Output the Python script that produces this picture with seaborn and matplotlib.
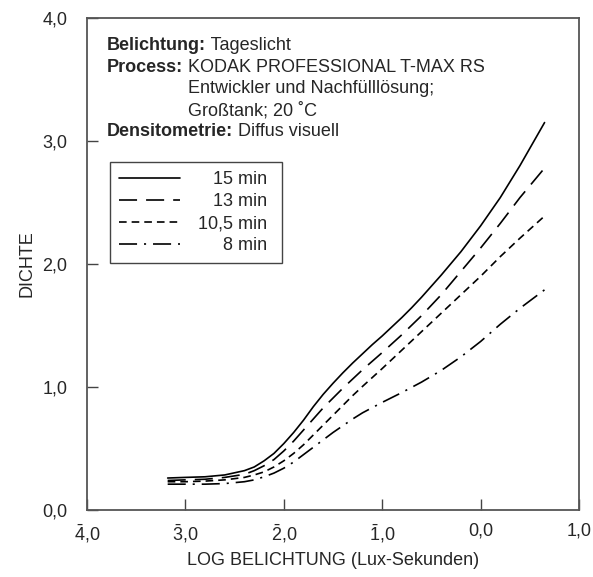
import matplotlib
matplotlib.use("Agg")
import matplotlib.pyplot as plt
import seaborn as sns
import pandas as pd

# ---- data (log exposure, density) ----
x_15 = [-3.18, -3.0, -2.8, -2.6, -2.4, -2.3, -2.2, -2.1, -2.0, -1.9, -1.8, -1.7, -1.6,
        -1.5, -1.4, -1.3, -1.2, -1.1, -1.0, -0.9, -0.8, -0.7, -0.6, -0.4, -0.2, 0.0,
        0.2, 0.4, 0.65]
d_15 = [0.26, 0.265, 0.27, 0.285, 0.32, 0.35, 0.40, 0.46, 0.54, 0.63, 0.73, 0.84, 0.94,
        1.03, 1.115, 1.195, 1.27, 1.345, 1.415, 1.49, 1.565, 1.645, 1.73, 1.91, 2.10, 2.31,
        2.54, 2.80, 3.15]

x_13 = [-3.18, -3.0, -2.8, -2.6, -2.4, -2.3, -2.2, -2.1, -2.0, -1.9, -1.8, -1.7, -1.6,
        -1.5, -1.4, -1.3, -1.2, -1.0, -0.8, -0.6, -0.4, -0.2, 0.0, 0.2, 0.4, 0.65]
d_13 = [0.24, 0.245, 0.25, 0.265, 0.29, 0.32, 0.36, 0.41, 0.48, 0.56, 0.65, 0.74, 0.83,
        0.91, 0.99, 1.065, 1.14, 1.28, 1.425, 1.58, 1.75, 1.94, 2.13, 2.33, 2.54, 2.78]

x_105 = [-3.18, -3.0, -2.8, -2.6, -2.4, -2.3, -2.2, -2.1, -2.0, -1.9, -1.8, -1.7, -1.6,
         -1.5, -1.4, -1.3, -1.2, -1.0, -0.8, -0.6, -0.4, -0.2, 0.0, 0.2, 0.4, 0.65]
d_105 = [0.23, 0.23, 0.235, 0.245, 0.265, 0.285, 0.31, 0.35, 0.40, 0.46, 0.53, 0.61, 0.69,
         0.77, 0.85, 0.93, 1.005, 1.15, 1.30, 1.45, 1.60, 1.75, 1.90, 2.06, 2.21, 2.39]

x_8 = [-3.18, -3.0, -2.8, -2.6, -2.4, -2.3, -2.2, -2.1, -2.0, -1.9, -1.8, -1.7, -1.6,
       -1.5, -1.4, -1.3, -1.2, -1.0, -0.8, -0.6, -0.4, -0.2, 0.0, 0.2, 0.4, 0.65]
d_8 = [0.21, 0.21, 0.21, 0.215, 0.23, 0.245, 0.27, 0.30, 0.34, 0.39, 0.45, 0.51, 0.57,
       0.63, 0.685, 0.74, 0.79, 0.875, 0.955, 1.04, 1.135, 1.245, 1.37, 1.51, 1.64, 1.79]

series_labels = ["15 min", "13 min", "10,5 min", "8 min"]
x_ticks = [-4, -3, -2, -1, 0, 1]
x_ticklabels = [r"$\bar{4}$,0", r"$\bar{3}$,0", r"$\bar{2}$,0", r"$\bar{1}$,0", "0,0", "1,0"]
y_ticks = [0, 1, 2, 3, 4]
y_ticklabels = ["0,0", "1,0", "2,0", "3,0", "4,0"]

# ---- style ----
sns.set_style("ticks")
plt.rcParams["font.family"] = ["Liberation Sans", "DejaVu Sans"]
plt.rcParams["mathtext.fontset"] = "custom"
plt.rcParams["mathtext.rm"] = "Liberation Sans"
plt.rcParams["mathtext.it"] = "Liberation Sans"
plt.rcParams["mathtext.bf"] = "Liberation Sans:bold"
plt.rcParams["lines.scale_dashes"] = False
FS = 13

frames = []
for lab, xs, ds in zip(series_labels, [x_15, x_13, x_105, x_8], [d_15, d_13, d_105, d_8]):
    frames.append(pd.DataFrame({"logH": xs, "D": ds, "Zeit": lab}))
df = pd.concat(frames, ignore_index=True)

fig = plt.figure(figsize=(5.93, 5.77), dpi=100)
ax = fig.add_axes([87 / 593, (577 - 510) / 577, 492 / 593, 492 / 577])

dash_map = {
    "15 min": "",
    "13 min": (13, 6.5),
    "10,5 min": (5.5, 3.6),
    "8 min": (13, 5, 1.5, 5),
}
sns.lineplot(data=df, x="logH", y="D", hue="Zeit", style="Zeit",
             hue_order=series_labels, style_order=series_labels,
             palette={k: "black" for k in series_labels}, dashes=dash_map,
             estimator=None, sort=True, linewidth=1.2, legend=False, ax=ax)

ax.set_xlim(-4, 1)
ax.set_ylim(0, 4)
ax.set_xticks(x_ticks)
ax.set_xticklabels(x_ticklabels, fontsize=FS)
ax.set_yticks(y_ticks)
ax.set_yticklabels(y_ticklabels, fontsize=FS)
ax.tick_params(axis="both", direction="in", length=8, width=1, color="#444444")
ax.tick_params(axis="x", pad=9)
ax.tick_params(axis="y", pad=14)
for sp in ax.spines.values():
    sp.set_visible(True)
    sp.set_color("#555555")
    sp.set_linewidth(1.3)

ax.set_xlabel("LOG BELICHTUNG (Lux-Sekunden)", fontsize=FS)
ax.set_ylabel("DICHTE", fontsize=FS)
ax.xaxis.set_label_coords(0.5, -0.085)
ax.yaxis.set_label_coords(-0.105, 0.5)

# ---- info text block ----
def px2data(px, py):
    return -4 + (px - 87) / 98.4, (510 - py) / 123.0

line_off = -15.8  # points
bx, by = px2data(107, 45)
t1 = ax.text(bx, by, "Belichtung:", fontsize=FS, fontweight="bold", va="center", ha="left")
ax.annotate(" Tageslicht", xy=(1, 0), xycoords=t1, va="bottom", ha="left", fontsize=FS)

bx, by = px2data(107, 67)
t2 = ax.text(bx, by, "Process:", fontsize=FS, fontweight="bold", va="center", ha="left")
t3 = ax.annotate(" KODAK PROFESSIONAL T-MAX RS", xy=(1, 0), xycoords=t2, va="bottom",
                 ha="left", fontsize=FS)
t4 = ax.annotate("Entwickler und Nachfülllösung;", xy=(0, 0), xycoords=t3,
                 xytext=(3.2, line_off), textcoords="offset points",
                 va="bottom", ha="left", fontsize=FS)
ax.annotate("Großtank; 20 ˚C", xy=(0, 0), xycoords=t4,
            xytext=(0, line_off), textcoords="offset points",
            va="bottom", ha="left", fontsize=FS)

bx, by = px2data(107, 132)
t5 = ax.text(bx, by, "Densitometrie:", fontsize=FS, fontweight="bold", va="center", ha="left")
ax.annotate(" Diffus visuell", xy=(1, 0), xycoords=t5, va="bottom", ha="left", fontsize=FS)

# ---- legend (labels right-aligned via figure-space padding) ----
pad_labels = ["\u2007 15 min ", "\u2007 13 min ", "10,5 min ", "\u2007\u2007 8 min "]
handles = ax.get_lines()[:4]
leg = ax.legend(handles, pad_labels, loc="upper left",
                bbox_to_anchor=((110 - 87) / 492, (510 - 162) / 492),
                fontsize=FS, frameon=True, fancybox=False, framealpha=1,
                edgecolor="#444444", borderaxespad=0, handlelength=3.4,
                handletextpad=1.0, borderpad=0.5, labelspacing=0.28)
leg.get_frame().set_linewidth(1.0)

fig.savefig("out.png", dpi=100)
